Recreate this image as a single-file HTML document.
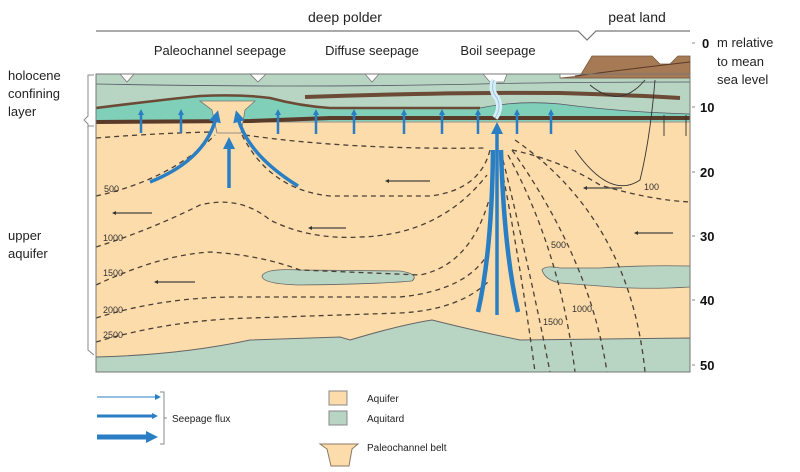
<!DOCTYPE html>
<html><head><meta charset="utf-8"><style>
html,body{margin:0;padding:0;background:#fff;}
svg{display:block;font-family:"Liberation Sans",sans-serif;}
</style></head><body>
<svg width="800" height="472" viewBox="0 0 800 472" xmlns="http://www.w3.org/2000/svg">
<defs>
<marker id="ah" markerWidth="6" markerHeight="6" refX="3" refY="3" orient="auto" markerUnits="userSpaceOnUse"><path d="M0,0 L6,3 L0,6 Z" fill="#2a7fc4"/></marker>
<marker id="ahb" markerWidth="12" markerHeight="12" refX="4" refY="6" orient="auto" markerUnits="userSpaceOnUse"><path d="M0,0 L12,6 L0,12 Z" fill="#2a7fc4"/></marker>
<marker id="ahk" markerWidth="4" markerHeight="4" refX="2" refY="2" orient="auto" markerUnits="userSpaceOnUse"><path d="M0,0 L4,2 L0,4 Z" fill="#333"/></marker>
</defs>
<text x="345" y="22" font-size="14" text-anchor="middle" fill="#222">deep polder</text>
<text x="637" y="22" font-size="14" text-anchor="middle" fill="#222">peat land</text>
<path d="M96,31 L578,31 L587,40 L596,31 L690,31" fill="none" stroke="#777" stroke-width="1.2"/>
<text x="220" y="55" font-size="13" text-anchor="middle" fill="#222">Paleochannel seepage</text>
<text x="372" y="55" font-size="13" text-anchor="middle" fill="#222">Diffuse seepage</text>
<text x="498" y="55" font-size="13" text-anchor="middle" fill="#222">Boil seepage</text>
<g font-size="13" fill="#222"><text x="8" y="80">holocene</text><text x="8" y="98">confining</text><text x="8" y="116">layer</text>
<text x="8" y="240">upper</text><text x="8" y="258">aquifer</text></g>
<path d="M94,75 L88,75 L88,116 L84,120 L88,124 L88,127" fill="none" stroke="#888" stroke-width="1"/>
<path d="M94,126 L88,126 L88,350 L94,355" fill="none" stroke="#888" stroke-width="1"/>
<g font-size="13" font-weight="bold" fill="#111"><text x="702" y="48">0</text><text x="700" y="112">10</text><text x="700" y="177">20</text><text x="700" y="241">30</text><text x="700" y="305">40</text><text x="700" y="370">50</text></g>
<g font-size="13" fill="#222"><text x="717" y="47">m relative</text><text x="717" y="66">to mean</text><text x="717" y="84">sea level</text></g>
<g stroke="#888"><line x1="692" y1="43" x2="695" y2="43"/><line x1="692" y1="107" x2="695" y2="107"/><line x1="692" y1="172" x2="695" y2="172"/><line x1="692" y1="236" x2="695" y2="236"/><line x1="692" y1="300" x2="695" y2="300"/><line x1="692" y1="365" x2="695" y2="365"/></g>
<rect x="96" y="118" width="594" height="254" fill="#fddcab"/>
<path d="M96,74 L120,74 L127,82 L134,74 L250,74 L258,82 L266,74 L365,74 L372,82 L379,74 L483,74 L490,82 L504,82 L507,74 L560,74 L560,78 L690,78 L690,122 L96,122 Z" fill="#b7d5c2" stroke="#777" stroke-width="0.8"/>
<path d="M96,84 Q300,88 480,84 Q560,82 690,82" fill="none" stroke="#556" stroke-width="0.8"/>
<path d="M96,108 Q160,100 200,96 Q240,94 270,98 Q300,106 330,108 L480,108 Q520,100 560,104 Q620,112 690,114 L690,121 L96,121 Z" fill="#80cfb8"/>
<path d="M96,108 Q160,100 200,96 Q240,94 270,98 Q300,106 330,108 L480,108" fill="none" stroke="#6b4a36" stroke-width="2.5"/>
<path d="M480,108 Q520,100 560,104 Q620,112 690,114" fill="none" stroke="#556" stroke-width="0.8"/>
<path d="M305,97 Q450,92 560,93 Q630,95 680,98" fill="none" stroke="#6b4a36" stroke-width="4"/>
<path d="M96,122 L250,121 Q300,119 330,118 L690,118" fill="none" stroke="#5a3a28" stroke-width="4"/>
<path d="M560,78 L580,76 L592,56 L652,56 L660,64 L670,64 L678,56 L690,56 L690,78 Z" fill="#a57a55" stroke="#7a5a3c" stroke-width="0.8"/>
<path d="M575,76 Q620,70 690,62" fill="none" stroke="#5a3a28" stroke-width="1"/>
<path d="M590,85 Q620,110 645,80" fill="none" stroke="#333" stroke-width="0.9"/>
<path d="M575,150 Q610,200 640,180 Q650,140 655,80" fill="none" stroke="#333" stroke-width="0.9"/>
<line x1="664" y1="115" x2="664" y2="136" stroke="#333" stroke-width="0.9"/>
<line x1="686" y1="115" x2="686" y2="136" stroke="#333" stroke-width="0.9"/>
<path d="M200,101 L255,101 L245,110 L241,133 L217,133 L212,110 Z" fill="#fddcab" stroke="#777" stroke-width="0.8"/>
<path d="M262,276 Q265,268 300,270 L400,271 Q420,274 412,281 Q380,284 300,285 Q262,284 262,276 Z" fill="#b7d5c2" stroke="#666" stroke-width="0.8"/>
<path d="M542,270 Q545,265 560,268 L600,268 Q640,265 690,266 L690,287 Q640,290 600,286 L560,283 Q545,280 542,270 Z" fill="#b7d5c2" stroke="#666" stroke-width="0.8"/>
<path d="M96,357 Q180,355 250,340 L340,337 L350,340 Q400,325 432,320 Q480,332 520,340 L690,338 L690,372 L96,372 Z" fill="#b7d5c2" stroke="#666" stroke-width="1"/>
<g fill="none" stroke="#4a4036" stroke-width="1.3" stroke-dasharray="5,4">
<path d="M96,138 Q160,133 212,132"/>
<path d="M245,135 Q350,150 485,148"/>
<path d="M512,150 Q560,160 600,185 Q650,200 690,202"/>
<path d="M96,196 Q170,180 215,135"/>
<path d="M242,135 Q270,190 330,196 L430,196 Q480,190 490,150"/>
<path d="M96,247 Q150,230 200,205 Q240,195 270,220 Q310,240 360,237 Q440,235 487,175"/>
<path d="M96,285 Q160,255 210,252 Q260,255 300,270 L420,275 Q470,265 489,200"/>
<path d="M96,318 Q160,298 230,297 L400,297 Q470,290 490,250"/>
<path d="M96,342 Q170,320 250,318 L400,313 Q460,310 490,280"/>
<path d="M500,160 Q520,260 535,372"/>
<path d="M503,160 Q530,270 550,372"/>
<path d="M508,155 Q560,250 575,372"/>
<path d="M512,150 Q590,260 607,372"/>
<path d="M515,140 Q630,220 645,372"/>
</g>
<g font-size="9" fill="#333"><text x="104" y="192">500</text><text x="103" y="241">1000</text><text x="103" y="276">1500</text><text x="103" y="313">2000</text><text x="103" y="338">2500</text>
<text x="644" y="190">100</text><text x="551" y="248">500</text><text x="572" y="312">1000</text><text x="543" y="325">1500</text></g>
<g stroke="#444" stroke-width="1.2" marker-end="url(#ahk)">
<line x1="430" y1="181" x2="387" y2="181"/><line x1="622" y1="188" x2="585" y2="188"/>
<line x1="152" y1="213" x2="114" y2="213"/><line x1="346" y1="228" x2="310" y2="228"/>
<line x1="673" y1="233" x2="636" y2="233"/><line x1="195" y1="282" x2="156" y2="282"/>
</g>
<path d="M494,80 Q490,90 497,98 Q502,108 495,118" fill="none" stroke="#d8eef8" stroke-width="6"/>
<path d="M494,80 Q490,90 497,98 Q502,108 495,118" fill="none" stroke="#9cc6e0" stroke-width="1"/>
<g stroke="#2a7fc4" stroke-width="2.5" marker-end="url(#ah)">
<line x1="141" y1="133" x2="141" y2="112"/><line x1="181" y1="133" x2="181" y2="112"/>
<line x1="278" y1="134" x2="278" y2="112"/><line x1="316" y1="134" x2="316" y2="112"/>
<line x1="354" y1="134" x2="354" y2="112"/><line x1="404" y1="134" x2="404" y2="112"/>
<line x1="442" y1="134" x2="442" y2="112"/><line x1="478" y1="134" x2="478" y2="112"/>
<line x1="517" y1="134" x2="517" y2="112"/><line x1="551" y1="134" x2="551" y2="112"/>
</g>
<g fill="none" stroke="#2a7fc4" stroke-width="3.5" marker-end="url(#ahb)">
<line x1="229" y1="188" x2="229" y2="145"/>
<path d="M150,182 Q205,160 216,118"/>
<path d="M298,186 Q248,155 238,118"/>
<path d="M497,315 L497,130"/>
</g>
<path d="M478,312 Q492,250 493,150" fill="none" stroke="#2a7fc4" stroke-width="4.5"/>
<path d="M518,312 Q504,250 501,150" fill="none" stroke="#2a7fc4" stroke-width="4.5"/>
<rect x="96" y="74" width="594" height="298" fill="none" stroke="#777" stroke-width="1"/>
<g stroke="#2a7fc4" fill="none">
<line x1="97" y1="397" x2="158" y2="397" stroke-width="1" marker-end="url(#ah)"/>
<line x1="97" y1="416" x2="155" y2="416" stroke-width="3" marker-end="url(#ah)"/>
<line x1="97" y1="437" x2="150" y2="437" stroke-width="5" marker-end="url(#ahb)"/>
</g>
<path d="M160,392 L164,392 L164,444 L160,444 M164,418 L167,418" fill="none" stroke="#888"/>
<text x="172" y="422" font-size="10" fill="#222">Seepage flux</text>
<rect x="329" y="391" width="18" height="14" fill="#fddcab" stroke="#888"/>
<rect x="329" y="411" width="18" height="14" fill="#b7d5c2" stroke="#888"/>
<text x="367" y="402" font-size="10" fill="#222">Aquifer</text>
<text x="367" y="422" font-size="10" fill="#222">Aquitard</text>
<path d="M320,444 L358,444 L352,449 L349,466 L331,466 L327,449 Z" fill="#fddcab" stroke="#8a7a60" stroke-width="1"/>
<text x="367" y="451" font-size="10" fill="#222">Paleochannel belt</text>
</svg>
</body></html>
